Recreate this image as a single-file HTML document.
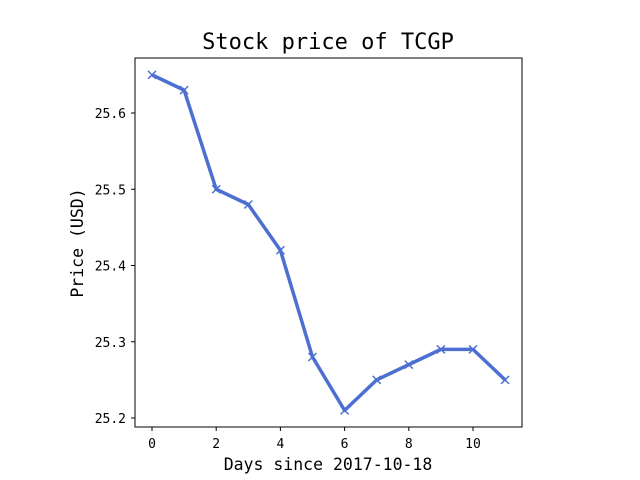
<!DOCTYPE html>
<html><head><meta charset="utf-8"><style>body{margin:0;background:#fff}svg{display:block}text{font-family:"DejaVu Sans Mono","Liberation Mono",monospace;fill:#000}</style></head>
<body>
<svg id="chart" width="640" height="480">
<rect x="0" y="0" width="640" height="480" fill="#fff"/>
<text x="328" y="49" font-size="22" text-anchor="middle">Stock price of TCGP</text>
<text x="328" y="470" font-size="16.5" text-anchor="middle">Days since 2017-10-18</text>
<text x="0" y="0" font-size="16.5" text-anchor="middle" transform="translate(83,243) rotate(-90)">Price (USD)</text>
<g id="ticks"></g>
<g id="plot"></g>
<rect x="135" y="58" width="387" height="369" fill="none" stroke="#000" stroke-width="1"/>
</svg>
<script>
const days=[0,1,2,3,4,5,6,7,8,9,10,11];
const prices=[25.65,25.63,25.50,25.48,25.42,25.28,25.21,25.25,25.27,25.29,25.29,25.25];
const xTicks=[0,2,4,6,8,10];
const yTicks=[25.2,25.3,25.4,25.5,25.6];
const NS="http://www.w3.org/2000/svg";
function xs(v){return 152+v*32.1;}
function ys(v){return 418-(v-25.2)*762.5;}
const tg=document.getElementById('ticks'),pg=document.getElementById('plot');
function mk(tag,a,parent){const e=document.createElementNS(NS,tag);for(const k in a)e.setAttribute(k,a[k]);parent.appendChild(e);return e;}
xTicks.forEach(t=>{const x=xs(t);
const l=mk('line',{x1:x,x2:x,y1:427,y2:431,stroke:'#000'},tg);


const s=mk('text',{x:x,y:448,'font-size':13,'text-anchor':'middle'},tg);s.textContent=t;

});
yTicks.forEach(t=>{const y=ys(t);
const l=mk('line',{x1:131,x2:135,y1:y,y2:y,stroke:'#000'},tg);


const s=mk('text',{x:126,y:y+5,'font-size':13,'text-anchor':'end'},tg);s.textContent=t.toFixed(1);

});
const pts=days.map((d,i)=>xs(d)+','+ys(prices[i])).join(' ');
const pl=mk('polyline',{points:pts,fill:'none',stroke:'#4c6fd1','stroke-width':3.5,'stroke-linejoin':'round'},pg);


days.forEach((d,i)=>{const x=xs(d),y=ys(prices[i]);
const m=mk('path',{d:`M${x-4},${y-4}L${x+4},${y+4}M${x-4},${y+4}L${x+4},${y-4}`,stroke:'#4c6fd1','stroke-width':1.5},pg);

});
</script>
</body></html>
